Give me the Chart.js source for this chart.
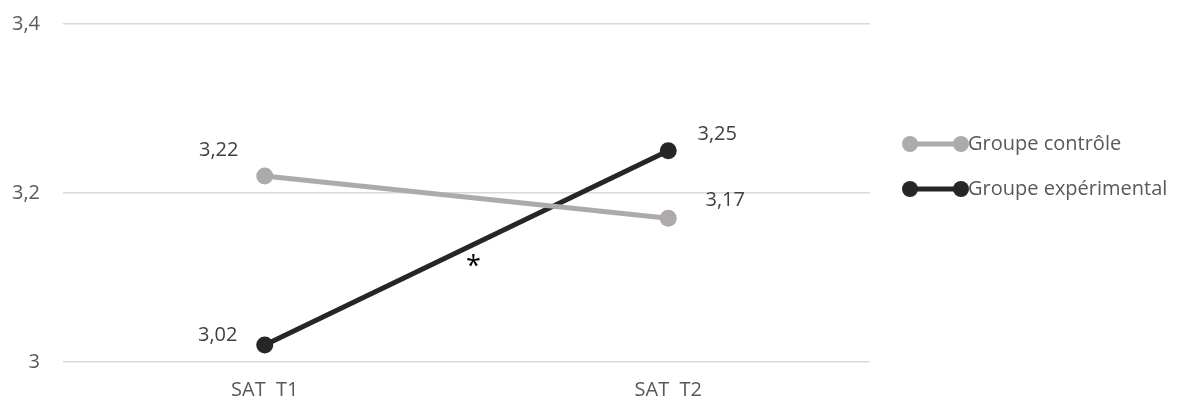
<!DOCTYPE html>
<html>
<head>
<meta charset="utf-8">
<script src="https://cdn.jsdelivr.net/npm/chart.js@4/dist/chart.umd.min.js"></script>
<style>
  html, body { margin: 0; padding: 0; background: #fff; }
  #wrap { width: 1183px; height: 403px; }
</style>
</head>
<body>
<div id="wrap"><canvas id="chart"></canvas></div>
<script>
// data
const categories = ['SAT  T1', 'SAT  T2'];
const seriesNames = ['Groupe contrôle', 'Groupe expérimental'];
const controle = [3.22, 3.17];
const experimental = [3.02, 3.25];
const yTicks = [3, 3.2, 3.4];
// significance mark between the two time points
const starLabel = '*';
const starValue = 3.125;

// label offsets (px) from each point, Excel moved them by hand
const labelOffsets = [
  [[-46, -26], [57, -18]],
  [[-47, -10], [49, -16]]
];

const colors = ['#aeaaaa', '#262626'];
const FONT = '"Open Sans", "Liberation Sans", sans-serif';
const fmt = v => String(Math.round(v * 100) / 100).replace('.', ',');

const labelsPlugin = {
  id: 'pointLabels',
  afterDatasetsDraw(chart) {
    const ctx = chart.ctx;
    ctx.save();
    ctx.font = '20px ' + FONT;
    ctx.fillStyle = '#404040';
    ctx.textAlign = 'center';
    ctx.textBaseline = 'middle';
    chart.data.datasets.forEach((ds, i) => {
      chart.getDatasetMeta(i).data.forEach((pt, j) => {
        const off = labelOffsets[i][j];
        ctx.fillText(fmt(ds.data[j]), pt.x + off[0], pt.y + off[1]);
      });
    });
    // asterisk
    const x = chart.scales.x.getPixelForValue(0.5) + 7;
    const y = chart.scales.y.getPixelForValue(starValue);
    ctx.font = '27px ' + FONT;
    ctx.fillStyle = '#000';
    ctx.textBaseline = 'alphabetic';
    ctx.fillText(starLabel, x, y + 19);
    ctx.restore();
  }
};

const legendPlugin = {
  id: 'sideLegend',
  afterDraw(chart) {
    const ctx = chart.ctx;
    const x0 = chart.chartArea.right + 40;
    const rows = [144, 189];
    ctx.save();
    chart.data.datasets.forEach((ds, i) => {
      const y = rows[i];
      ctx.strokeStyle = ds.borderColor;
      ctx.fillStyle = ds.borderColor;
      ctx.lineWidth = 5;
      ctx.beginPath();
      ctx.moveTo(x0, y);
      ctx.lineTo(x0 + 51, y);
      ctx.stroke();
      [x0, x0 + 51].forEach(cx => {
        ctx.beginPath();
        ctx.arc(cx, y, 8, 0, Math.PI * 2);
        ctx.fill();
      });
      ctx.font = '20px ' + FONT;
      ctx.fillStyle = '#595959';
      ctx.textAlign = 'left';
      ctx.textBaseline = 'middle';
      ctx.fillText(ds.label, x0 + 58, y);
    });
    ctx.restore();
  }
};

new Chart(document.getElementById('chart'), {
  type: 'line',
  data: {
    labels: categories,
    datasets: [
      {
        label: seriesNames[0],
        data: controle,
        borderColor: colors[0],
        backgroundColor: colors[0],
        borderWidth: 5,
        pointRadius: 8.5,
        pointHoverRadius: 8.5,
        pointBorderWidth: 0
      },
      {
        label: seriesNames[1],
        data: experimental,
        borderColor: colors[1],
        backgroundColor: colors[1],
        borderWidth: 5,
        pointRadius: 8.5,
        pointHoverRadius: 8.5,
        pointBorderWidth: 0
      }
    ]
  },
  options: {
    responsive: true,
    maintainAspectRatio: false,
    animation: false,
    layout: { padding: { top: 24, right: 313, left: 0, bottom: 0 } },
    plugins: {
      legend: { display: false },
      tooltip: { enabled: false }
    },
    scales: {
      x: {
        offset: true,
        grid: { display: false, drawTicks: false },
        border: { display: false },
        ticks: { color: '#595959', font: { family: FONT, size: 20 }, padding: 16 },
        afterFit(scale) { scale.height = 41; }
      },
      y: {
        min: 3,
        max: 3.4,
        afterBuildTicks(scale) { scale.ticks = yTicks.map(v => ({ value: v })); },
        grid: { color: '#d9d9d9', lineWidth: 1.5, drawTicks: false },
        border: { display: false },
        ticks: {
          color: '#595959',
          font: { family: FONT, size: 20 },
          padding: 23,
          callback: v => fmt(v)
        },
        afterFit(scale) {
          scale.width = 63;
          scale.paddingTop = 0;
          scale.paddingBottom = 0;
        }
      }
    }
  },
  plugins: [labelsPlugin, legendPlugin]
});
</script>
</body>
</html>
